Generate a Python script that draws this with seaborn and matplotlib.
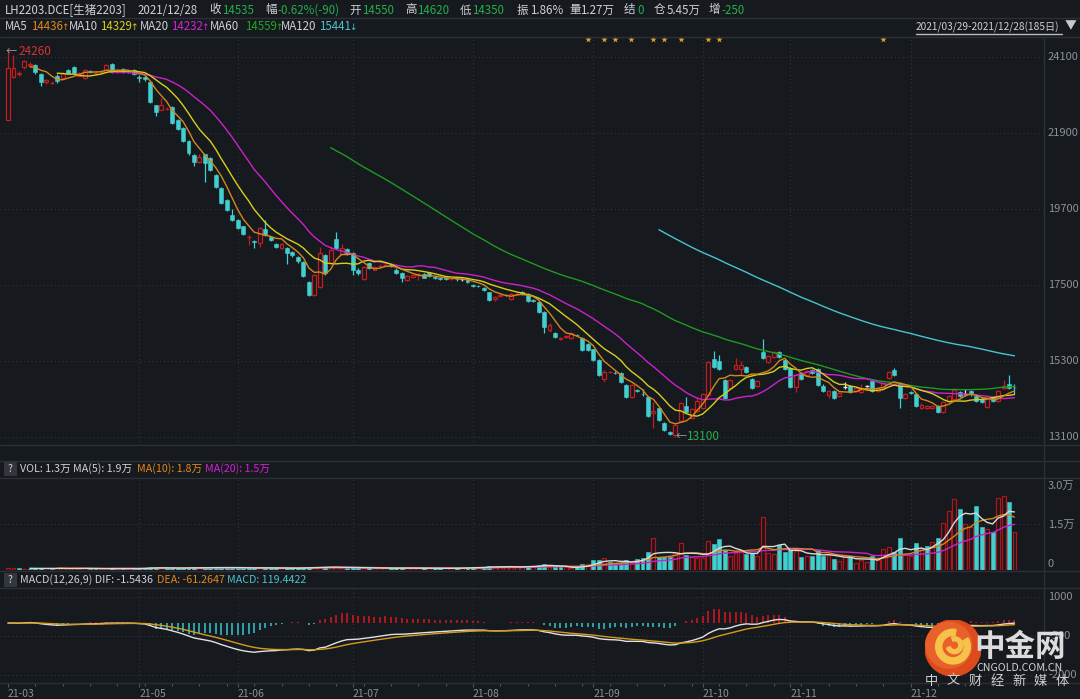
import numpy as np
import pandas as pd
import matplotlib
matplotlib.use("Agg")
import matplotlib.pyplot as plt
import matplotlib.transforms as mtransforms
from matplotlib.lines import Line2D
from matplotlib.patches import Rectangle, Circle, Wedge
import seaborn as sns

# ---------------- data ----------------
opens = [
    22280, 23520, 23620, 23800, 23880, 23870, 23600, 23370, 23350, 23550,
    23490, 23720, 23820, 23560, 23490, 23680, 23650, 23670, 23660, 23900,
    23660, 23750, 23690, 23720, 23520, 23520, 23380, 22700, 22580, 22590,
    22650, 22280, 22040, 21670, 21260, 21060, 21290, 21180, 20680, 20310,
    19960, 19530, 19380, 19200, 18880, 18760, 18720, 19120, 18890, 18690,
    18580, 18570, 18460, 18310, 18170, 17590, 17210, 17440, 18370, 18140,
    18830, 18400, 18540, 18430, 17940, 17670, 18140, 17940, 18040, 18080,
    18070, 17940, 17850, 17650, 17740, 17800, 17810, 17850, 17720, 17690,
    17690, 17670, 17670, 17660, 17660, 17510, 17470, 17410, 17290, 17100,
    17190, 17210, 17100, 17240, 17300, 17250, 17060, 17010, 16720, 16200,
    16110, 15950, 16000, 15960, 16050, 15960, 15800, 15640, 15330, 14780,
    14970, 14960, 14950, 14600, 14260, 14450, 14350, 14260, 13800, 13940,
    13510, 13240, 13160, 13560, 14010, 13650, 13850, 13940, 14320, 15360,
    15310, 14750, 14530, 15070, 15080, 15130, 14790, 14570, 15560, 15280,
    15420, 15560, 15330, 15100, 14550, 14950, 14900, 15050, 15070, 14590,
    14320, 14420, 14300, 14560, 14580, 14420, 14410, 14570, 14710, 14440,
    14550, 14810, 15050, 14650, 14230, 14410, 14340, 13940, 13950, 13950,
    14010, 13830, 14150, 14200, 14390, 14330, 14420, 14300, 14200, 13960,
    14270, 14130, 14520, 14620, 14550]
closes = [
    23780, 23780, 23640, 23990, 23900, 23670, 23385, 23420, 23360, 23400,
    23640, 23640, 23640, 23640, 23720, 23670, 23660, 23680, 23870, 23660,
    23720, 23660, 23680, 23620, 23480, 23460, 22790, 22500, 22700, 22600,
    22190, 22010, 21670, 21320, 21060, 21210, 21030, 20830, 20330, 19870,
    19670, 19380, 19150, 18980, 18890, 18750, 19150, 18950, 18800, 18600,
    18690, 18420, 18380, 18190, 17760, 17210, 17790, 18430, 17850, 18510,
    18570, 18570, 18400, 17940, 17850, 18020, 17990, 18030, 18060, 18090,
    18060, 17850, 17710, 17760, 17800, 17810, 17710, 17760, 17710, 17680,
    17680, 17680, 17660, 17660, 17580, 17460, 17460, 17360, 17060, 17160,
    17200, 17200, 17250, 17250, 17250, 17050, 17050, 16720, 16280, 16330,
    15990, 15960, 16010, 16100, 16040, 15620, 15620, 15330, 14890, 14990,
    14980, 14950, 14690, 14260, 14600, 14440, 14340, 13710, 13860, 13590,
    13300, 13200, 13450, 14070, 13810, 13910, 14140, 14340, 15270, 15130,
    15070, 14230, 14750, 15180, 15180, 14990, 14520, 14720, 15390, 15450,
    15560, 15420, 15070, 14550, 14880, 14780, 15000, 14940, 14610, 14420,
    14440, 14230, 14370, 14560, 14390, 14510, 14510, 14570, 14420, 14520,
    14650, 14990, 14900, 14230, 14330, 14380, 14000, 14040, 14010, 14010,
    13830, 14100, 14290, 14450, 14300, 14330, 14330, 14150, 14100, 14200,
    14130, 14420, 14580, 14515, 14535]
highs = [
    24260, 24160, 23700, 24000, 23960, 23900, 23640, 23460, 23400, 23600,
    23680, 23760, 23840, 23680, 23740, 23720, 23700, 23720, 23900, 23920,
    23760, 23780, 23720, 23740, 23580, 23560, 23400, 22720, 22900, 22640,
    22680, 22300, 22060, 21700, 21300, 21280, 21300, 21200, 20700, 20330,
    19990, 19700, 19400, 19220, 18950, 18800, 19180, 19380, 18920, 18720,
    18720, 18600, 18490, 18340, 18200, 17620, 17820, 18600, 18400, 18620,
    19030, 18680, 18580, 18460, 17980, 18060, 18160, 18060, 18100, 18130,
    18100, 17980, 17870, 17790, 17830, 17850, 17840, 17880, 17750, 17720,
    17710, 17710, 17700, 17690, 17690, 17540, 17500, 17440, 17310, 17190,
    17240, 17240, 17280, 17290, 17340, 17270, 17090, 17030, 16740, 16400,
    16140, 16000, 16060, 16140, 16080, 15990, 15830, 15660, 15350, 15030,
    15020, 15000, 14970, 14620, 14640, 14480, 14480, 14280, 14110, 13960,
    13530, 13260, 13480, 14100, 14250, 13950, 14260, 14380, 15290, 15600,
    15480, 14780, 14780, 15400, 15300, 15160, 14820, 14750, 15950, 15480,
    15590, 15590, 15360, 15130, 14920, 14980, 15030, 15080, 15100, 14620,
    14470, 14450, 14400, 14700, 14610, 14540, 14620, 14610, 14740, 14550,
    14680, 15020, 15100, 14680, 14360, 14440, 14370, 14070, 14040, 14040,
    14040, 14130, 14320, 14480, 14420, 14500, 14450, 14330, 14230, 14230,
    14300, 14450, 14760, 14900, 14620]
lows = [
    22280, 23480, 23560, 23760, 23820, 23620, 23250, 23330, 23320, 23340,
    23460, 23600, 23600, 23540, 23460, 23640, 23620, 23640, 23640, 23640,
    23640, 23640, 23640, 23580, 23380, 23400, 22760, 22380, 22560, 22560,
    22150, 21980, 21640, 21260, 20950, 21020, 20480, 20800, 20300, 19840,
    19640, 19350, 19120, 18950, 18660, 18560, 18600, 18920, 18760, 18560,
    18550, 18100, 18300, 18150, 17730, 17180, 17190, 17420, 17800, 18100,
    18540, 18380, 18370, 17800, 17800, 17640, 17960, 17920, 18000, 18040,
    18020, 17820, 17600, 17620, 17710, 17640, 17690, 17740, 17680, 17650,
    17650, 17650, 17630, 17630, 17560, 17430, 17430, 17330, 17030, 17040,
    17160, 17170, 17080, 17210, 17220, 17020, 17020, 16690, 16100, 16150,
    15960, 15900, 15970, 15940, 16010, 15600, 15590, 15300, 14860, 14690,
    14940, 14910, 14660, 14230, 14240, 14400, 14300, 13690, 13360, 13560,
    13270, 13150, 13100, 13540, 13780, 13620, 13830, 13920, 14300, 15100,
    15040, 14200, 14500, 15040, 14900, 14960, 14490, 14540, 15360, 15250,
    15390, 15390, 15040, 14520, 14400, 14750, 14870, 14910, 14580, 14390,
    14230, 14200, 14270, 14500, 14360, 14390, 14380, 14540, 14390, 14410,
    14500, 14780, 14870, 13950, 14200, 14350, 13970, 13920, 13920, 13920,
    13800, 13780, 14120, 14170, 14270, 14300, 14300, 14120, 14070, 13930,
    14100, 14100, 14500, 14490, 14350]
volumes = [
    600, 800, 500, 400, 450, 500, 700, 500, 450, 500,
    550, 500, 600, 450, 600, 400, 350, 400, 500, 550,
    400, 450, 400, 450, 600, 650, 900, 800, 600, 500,
    700, 650, 700, 750, 800, 650, 900, 750, 800, 850,
    800, 750, 700, 700, 650, 600, 800, 700, 600, 550,
    550, 650, 600, 600, 750, 900, 1000, 1100, 900, 850,
    900, 750, 700, 850, 700, 750, 650, 600, 550, 600,
    550, 650, 700, 600, 550, 600, 550, 600, 550, 500,
    550, 600, 650, 700, 800, 900, 850, 900, 1300, 1100,
    1000, 950, 1100, 1000, 1050, 1300, 1200, 1500, 2100, 1400,
    880, 880, 880, 540, 1090, 1850, 1850, 3260, 3260, 3800,
    2720, 2170, 2170, 3260, 2720, 3480, 4020, 5980, 10330, 4130,
    4130, 4130, 5430, 8690, 4890, 4130, 3800, 3800, 9450, 8480,
    10000, 6520, 4560, 5650, 5980, 5210, 5650, 4560, 17170, 5650,
    5210, 8150, 5980, 6740, 6190, 4350, 4560, 4560, 6520, 4560,
    4890, 3480, 3040, 4890, 4560, 2390, 3260, 2720, 4560, 3260,
    6740, 7390, 5980, 10330, 4890, 4560, 8910, 7060, 7820, 9240,
    10330, 15210, 19340, 23030, 19890, 15000, 14000, 20970, 14130, 13500,
    12500, 23580, 24230, 22060, 12280]

month_ticks = [0, 24, 42, 63, 85, 107, 127, 143, 165]
month_labels = ['21-03', '21-05', '21-06', '21-07', '21-08', '21-09', '21-10', '21-11', '21-12']
price_ticks = [24100, 21900, 19700, 17500, 15300, 13100]
vol_ticks = [27400, 14700, 1900]
vol_tick_labels = ['3.0万', '1.5万', '0']
macd_ticks = [1000, -500, -2000]
star_days = [106, 109, 111, 114, 118, 120, 123, 128, 130, 160]

# ---------------- style ----------------
BG = '#16191e'
SEP = '#2b2f36'
GRID = '#30343b'
AXC = '#8d9198'
TXT = '#cfd1d5'
RED = '#c21d22'
CYAN = '#42cfd0'
ORANGE = '#d3881c'
YELLOW = '#d7cf1d'
MAG = '#cc22cc'
GREEN_MA = '#1f9a22'
CYAN_MA = '#48c4cf'
NUMG = '#22b04c'

sns.set_theme(style='dark', rc={'axes.facecolor': BG, 'figure.facecolor': BG})
plt.rcParams['font.family'] = ['Noto Sans CJK SC', 'DejaVu Sans']
plt.rcParams['axes.unicode_minus'] = False

W, H = 1080, 699
fig = plt.figure(figsize=(W / 100, H / 100), dpi=100)
fig.patch.set_facecolor(BG)


def rect(x0, y0, x1, y1):
    return [x0 / W, 1 - y1 / H, (x1 - x0) / W, (y1 - y0) / H]


def ft(x, y, s, color=TXT, size=8.3, **kw):
    fig.text(x / W, 1 - y / H, s, color=color, fontsize=size, ha='left', va='center', **kw)


def hline(y, x0=0, x1=W, color=SEP):
    fig.add_artist(Line2D([x0 / W, x1 / W], [1 - y / H, 1 - y / H], color=color, lw=1))


def vline(x, y0, y1, color=SEP):
    fig.add_artist(Line2D([x / W, x / W], [1 - y0 / H, 1 - y1 / H], color=color, lw=1))


ax_p = fig.add_axes(rect(0, 37, 1044, 445))
ax_v = fig.add_axes(rect(0, 478, 1044, 570))
ax_m = fig.add_axes(rect(0, 588, 1044, 683))

n = len(closes)
idx = np.arange(n)
o = np.array(opens, float)
c = np.array(closes, float)
h = np.array(highs, float)
l = np.array(lows, float)
v = np.array(volumes, float)

XL = (-8 / 5.47, (1044 - 8) / 5.47)
for ax in (ax_p, ax_v, ax_m):
    ax.set_facecolor(BG)
    ax.set_xlim(*XL)
    for s in ax.spines.values():
        s.set_visible(False)
    ax.set_xticks([])
    ax.set_yticks([])
    ax.grid(False)
    for t in month_ticks[1:]:
        ax.axvline(t, color=GRID, lw=0.8, ls=(0, (1, 2.5)), zorder=0)

# ---------------- main price panel ----------------
ax_p.set_ylim(12868, 24679)
for pv in price_ticks:
    ax_p.axhline(pv, color=GRID, lw=0.8, ls=(0, (1, 2.5)), zorder=0)

up = c > o
dn = c < o
eq = c == o
bw = 0.72
ax_p.vlines(idx[dn], l[dn], h[dn], color=CYAN, lw=0.9, zorder=2)
ax_p.bar(idx[dn], np.maximum((o - c)[dn], 12), bottom=c[dn], width=bw,
         color=CYAN, edgecolor=CYAN, lw=0.4, zorder=3)
ax_p.vlines(idx[up], c[up], h[up], color=RED, lw=0.9, zorder=2)
ax_p.vlines(idx[up], l[up], o[up], color=RED, lw=0.9, zorder=2)
ax_p.bar(idx[up], (c - o)[up], bottom=o[up], width=bw,
         facecolor=BG, edgecolor=RED, lw=0.9, zorder=3)
ax_p.vlines(idx[eq], l[eq], h[eq], color='#e4e4e4', lw=0.9, zorder=3)
ax_p.hlines(c[eq], idx[eq] - bw / 2, idx[eq] + bw / 2, color='#e4e4e4', lw=1, zorder=3)

cs = pd.Series(c)
for win, col in [(120, CYAN_MA), (60, GREEN_MA), (20, MAG), (10, YELLOW), (5, ORANGE)]:
    df = pd.DataFrame({'i': idx, 'ma': cs.rolling(win).mean()}).dropna()
    sns.lineplot(data=df, x='i', y='ma', ax=ax_p, color=col, linewidth=1.0,
                 legend=False, errorbar=None, zorder=4)
ax_p.set_xlabel('')
ax_p.set_ylabel('')

trans_p = mtransforms.blended_transform_factory(ax_p.transAxes, ax_p.transData)
for pv in price_ticks:
    ax_p.text(1 + 4 / 1044, pv, str(pv), transform=trans_p, ha='left', va='center',
              color=AXC, fontsize=8)

imax = int(np.argmax(h))
imin = int(np.argmin(l))
ax_p.annotate('←', xy=(imax, h[imax]), xytext=(-2, 0), textcoords='offset pixels',
              color='#a0a0a0', fontsize=8, va='center', ha='left')
ax_p.annotate(f'{int(h[imax])}', xy=(imax, h[imax]), xytext=(10, 0), textcoords='offset pixels',
              color='#d33535', fontsize=8.5, va='center', ha='left')
ax_p.annotate('←', xy=(imin, l[imin]), xytext=(0, 0), textcoords='offset pixels',
              color='#a0a0a0', fontsize=8, va='center', ha='left')
ax_p.annotate(f'{int(l[imin])}', xy=(imin, l[imin]), xytext=(12, 0), textcoords='offset pixels',
              color=NUMG, fontsize=8.5, va='center', ha='left')

trans_s = mtransforms.blended_transform_factory(ax_p.transData, ax_p.transAxes)
for sd in star_days:
    ax_p.text(sd, 1 - 4 / 408, '★', transform=trans_s, ha='center', va='center',
              color='#e0a030', fontsize=5)

# ---------------- volume panel ----------------
ax_v.set_ylim(0, 30000)
ax_v.axhline(15000, color=GRID, lw=0.8, ls=(0, (1, 2.5)), zorder=0)
prev_c = np.concatenate([[c[0]], c[:-1]])
vup = c >= prev_c
ax_v.bar(idx[~vup], v[~vup], width=bw, color=CYAN, edgecolor=CYAN, lw=0.4, zorder=2)
ax_v.bar(idx[vup], v[vup], width=bw, facecolor=BG, edgecolor='#b3141a', lw=0.9, zorder=2)
vs = pd.Series(v)
for win, col in [(20, MAG), (10, ORANGE), (5, '#d9d9d9')]:
    df = pd.DataFrame({'i': idx, 'ma': vs.rolling(win).mean()}).dropna()
    sns.lineplot(data=df, x='i', y='ma', ax=ax_v, color=col, linewidth=1.0,
                 legend=False, errorbar=None, zorder=3)
ax_v.set_xlabel('')
ax_v.set_ylabel('')
trans_v = mtransforms.blended_transform_factory(ax_v.transAxes, ax_v.transData)
for tv, tl in zip(vol_ticks, vol_tick_labels):
    ax_v.text(1 + 4 / 1044, tv, tl, transform=trans_v, ha='left', va='center',
              color=AXC, fontsize=8)

# ---------------- MACD panel ----------------
ema12 = cs.ewm(span=12, adjust=False).mean()
ema26 = cs.ewm(span=26, adjust=False).mean()
dif = ema12 - ema26
dea = dif.ewm(span=9, adjust=False).mean()
hist = (2 * (dif - dea)).to_numpy()
ax_m.set_ylim(-2308, 1346)
for mv in macd_ticks:
    ax_m.axhline(mv, color=GRID, lw=0.8, ls=(0, (1, 2.5)), zorder=0)
pos = hist >= 0
ax_m.vlines(idx[pos], 0, hist[pos], color='#c8181e', lw=1.2, zorder=2)
ax_m.vlines(idx[~pos], 0, hist[~pos], color='#33b9c2', lw=1.2, zorder=2)
sns.lineplot(x=idx, y=dif.to_numpy(), ax=ax_m, color='#e2e2e2', linewidth=1.0, legend=False,
             errorbar=None, zorder=3)
sns.lineplot(x=idx, y=dea.to_numpy(), ax=ax_m, color='#d89a1e', linewidth=1.0, legend=False,
             errorbar=None, zorder=3)
ax_m.set_xlabel('')
ax_m.set_ylabel('')
trans_m = mtransforms.blended_transform_factory(ax_m.transAxes, ax_m.transData)
for mv in macd_ticks:
    ax_m.text(1 + 4 / 1044, mv, str(mv), transform=trans_m, ha='left', va='center',
              color=AXC, fontsize=8)

ax_m.set_xticks(month_ticks)
ax_m.set_xticklabels(month_labels, ha='left')
ax_m.set_xticks(np.arange(0, n, 5), minor=True)
ax_m.tick_params(axis='x', which='both', bottom=True, direction='out', color='#50545b',
                 labelcolor=AXC, labelsize=7.5, pad=1.0, length=3, width=0.8)
ax_m.tick_params(axis='x', which='minor', length=2)
ax_m.set_xlim(*XL)

# ---------------- frame lines ----------------
for yy in (18, 37, 445, 461, 478, 571, 588, 683):
    hline(yy)
vline(1044, 37, 683)

# ---------------- header texts ----------------
y1 = 10
ft(5, y1, 'LH2203.DCE[生猪2203]')
ft(138, y1, '2021/12/28')
for x_, lab, x2, val, col in [
        (209, '收', 222, '14535', NUMG),
        (265, '幅', 277, '-0.62%(-90)', NUMG),
        (349, '开', 362, '14550', NUMG),
        (405, '高', 417, '14620', NUMG),
        (460, '低', 472, '14350', NUMG),
        (517, '振', 530, '1.86%', TXT),
        (569, '量', 580, '1.27万', TXT),
        (624, '结', 637, '0', NUMG),
        (654, '仓', 667, '5.45万', TXT),
        (709, '增', 721, '-250', NUMG)]:
    ft(x_, y1, lab)
    ft(x2, y1, val, color=col)

y2 = 27
for x_, s, col, arrow in [(5, 'MA5', TXT, ''), (31, '14436', '#e08a1a', '↑'), (69, 'MA10', TXT, ''),
                          (100, '14329', YELLOW, '↑'), (140, 'MA20', TXT, ''),
                          (171, '14232', '#d622d6', '↑'), (210, 'MA60', TXT, ''),
                          (245, '14559', '#22a626', '↑'), (281, 'MA120', TXT, ''),
                          (319, '15441', CYAN_MA, '↓')]:
    ft(x_, y2, s, color=col)
    if arrow:
        ft(x_ + 30, y2, arrow, color=col, size=6.5, family=['DejaVu Sans'])
ft(916, y2, '2021/03/29-2021/12/28(185日)', size=7.3)
hline(33.5, 916, 1062, color='#b8babe')
ft(1065, y2 - 1, '▼', size=8.5, color='#c8c8c8')

# volume header
fig.add_artist(Rectangle((4 / W, 1 - 476 / H), 13 / W, 14 / H, transform=fig.transFigure,
                         facecolor='#33363c', edgecolor='none'))
ft(7.5, 469, '?', size=7.5)
ft(20, 469, 'VOL: 1.3万 MA(5): 1.9万', size=7.7)
ft(137, 469, 'MA(10): 1.8万', color='#e08a1a', size=7.7)
ft(205, 469, 'MA(20): 1.5万', color='#d622d6', size=7.7)

# macd header
fig.add_artist(Rectangle((4 / W, 1 - 587 / H), 13 / W, 14 / H, transform=fig.transFigure,
                         facecolor='#33363c', edgecolor='none'))
ft(7.5, 580, '?', size=7.5)
ft(20, 580, 'MACD(12,26,9) DIF: -1.5436', size=7.7)
ft(157, 580, 'DEA: -61.2647', color='#e08a1a', size=7.7)
ft(227, 580, 'MACD: 119.4422', color=CYAN_MA, size=7.7)

# ---------------- watermark logo ----------------
lax = fig.add_axes(rect(925, 620, 981, 676))
lax.set_xlim(-1, 1)
lax.set_ylim(-1, 1)
lax.set_aspect('equal')
lax.axis('off')
lax.add_patch(Circle((0, 0), 1.0, color='#dd4a1c'))
lax.add_patch(Circle((-0.15, 0.1), 0.82, color='#e8602a'))
lax.add_patch(Wedge((0.0, 0.05), 0.62, 80, 390, width=0.22, color='#f7c24a'))
lax.add_patch(Wedge((0.05, 0.1), 0.3, 200, 470, width=0.14, color='#f7c24a'))
lax.set_zorder(20)
ft(974, 647, '中金网', color='#dcdcdc', size=22, fontweight='bold', zorder=21)
ft(976, 668, 'CNGOLD.COM.CN', color='#d4d4d4', size=7.6, zorder=21)
for k, ch in enumerate('中文财经新媒体'):
    ft(925 + k * 21.8, 681, ch, color='#d0d0d0', size=9.5, zorder=21)

fig.savefig('out.png', dpi=100, facecolor=BG)
